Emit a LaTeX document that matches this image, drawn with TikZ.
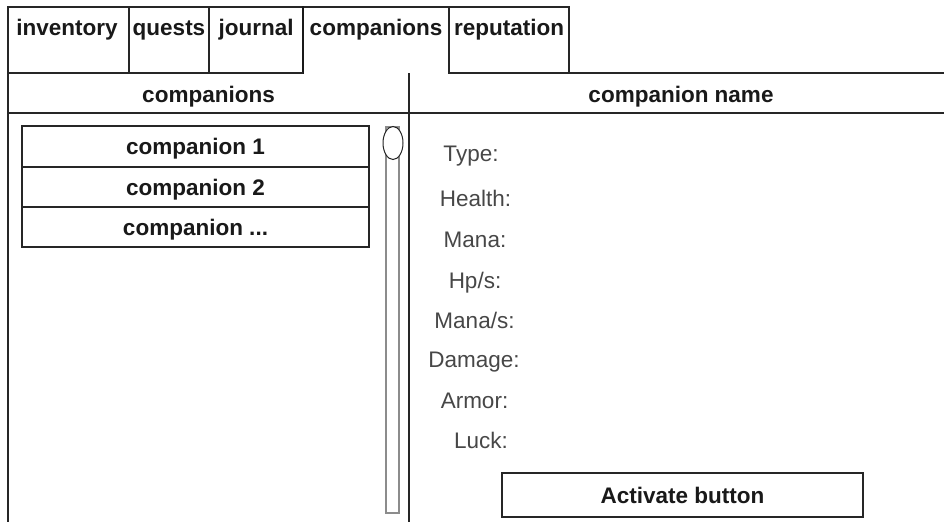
\documentclass[tikz,border=0pt]{standalone}
\usepackage{fontspec}
\setmainfont{Liberation Sans}
\usetikzlibrary{shapes.geometric}
\begin{document}
\begin{tikzpicture}[x=1pt,y=-1pt,
  frame/.style={line width=1.3pt, draw=black!85},
  boldtext/.style={font=\fontsize{22.5}{26}\selectfont\bfseries, text=black!90, inner sep=0pt},
  tabtext/.style={boldtext, anchor=base},
  fieldlabel/.style={font=\fontsize{22.5}{26}\selectfont, text=black!72, inner sep=0pt, anchor=base},
  rowbox/.style={frame, boldtext, rectangle, minimum width=347pt, text height=16pt, text depth=0pt},
  btnbox/.style={frame, boldtext, rectangle, minimum width=361pt, minimum height=44pt, text height=16pt, text depth=0pt},
  scrollbar/.style={line width=1.6pt, draw=black!45},
  knobshape/.style={ellipse, draw=black!85, line width=1pt, fill=white, minimum width=20pt, minimum height=33pt, inner sep=0pt}]
\useasboundingbox (0,0) rectangle (944,522);
\fill[white] (0,0) rectangle (944,522);

% tab strip
\draw[frame] (8,73) rectangle (129,7);
\draw[frame] (129,73) rectangle (209,7);
\draw[frame] (209,73) rectangle (303,7);
\draw[frame] (449,73) rectangle (569,7);
% selected tab: open at the bottom
\draw[frame] (303,7) -- (449,7) -- (449,73);
\draw[line width=2.2pt, draw=black!90] (303,6.4) -- (303,73.6);

\node[tabtext] (tinv)  at (67,35)  {inventory};
\node[tabtext] (tque)  at (169,35) {quests};
\node[tabtext] (tjou)  at (256,35) {journal};
\node[tabtext] (tcom)  at (376,35) {companions};
\node[tabtext] (trep)  at (509,35) {reputation};

% panel frame
\draw[frame] (8,73) -- (8,522);
\draw[frame] (8,73) -- (303,73);
\draw[frame] (449,73) -- (944,73);
\draw[frame] (8,113) -- (944,113);
\draw[frame] (409,73) -- (409,522);

\node[tabtext] (hleft)  at (208.5,102) {companions};
\node[tabtext] (hright) at (681,102)   {companion name};

% companion list
\node[rowbox, minimum height=41pt] (row1) at (195.5,146.5) {companion 1};
\node[rowbox, minimum height=40pt] (row2) at (195.5,187)   {companion 2};
\node[rowbox, minimum height=40pt] (row3) at (195.5,227)   {companion ...};

% scroll bar
\draw[scrollbar] (386,127) rectangle (399,513);
\node[knobshape] (knob) at (393,143) {};

% detail fields
\node[fieldlabel] (ftype) at (471,161)   {Type:};
\node[fieldlabel] (fhp)   at (475.5,206) {Health:};
\node[fieldlabel] (fmana) at (475,247)   {Mana:};
\node[fieldlabel] (fhps)  at (475,288)   {Hp/s:};
\node[fieldlabel] (fmps)  at (474.5,328) {Mana/s:};
\node[fieldlabel] (fdmg)  at (474,367)   {Damage:};
\node[fieldlabel] (farm)  at (474.5,408) {Armor:};
\node[fieldlabel] (fluck) at (481,448)   {Luck:};

\node[btnbox] (activate) at (682.5,495) {Activate button};
\end{tikzpicture}
\end{document}
